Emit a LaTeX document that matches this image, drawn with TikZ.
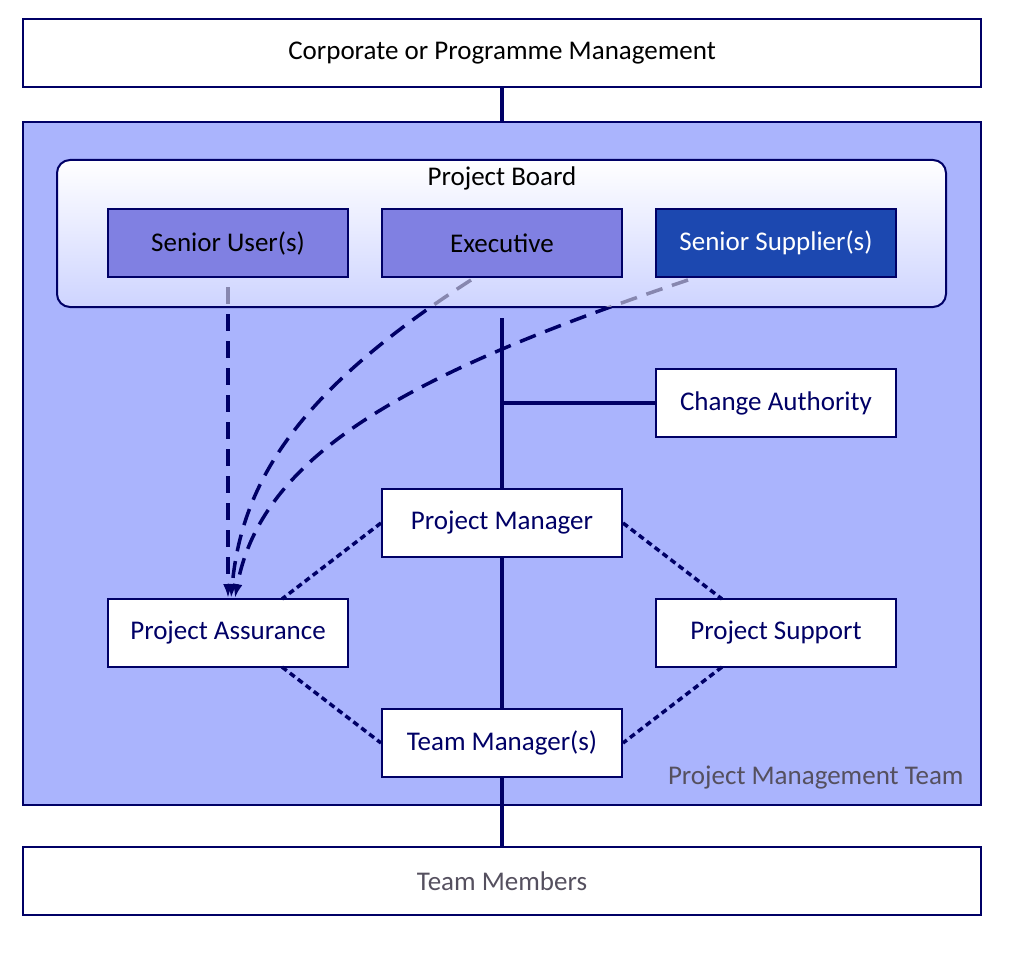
\documentclass[tikz,border=0pt]{standalone}
\usepackage{fontspec}
\setmainfont{Carlito}
\usetikzlibrary{arrows.meta}
\definecolor{myNavy}{RGB}{0,0,102}
\definecolor{pmtFill}{RGB}{170,180,253}
\definecolor{userFill}{RGB}{128,128,226}
\definecolor{suppFill}{RGB}{28,72,176}
\definecolor{boardBot}{RGB}{206,212,255}
\definecolor{greyText}{RGB}{85,80,95}
\definecolor{fadeLine}{RGB}{135,135,175}
\begin{document}
\begin{tikzpicture}[x=1pt,y=-1pt,
  every node/.style={font=\fontsize{27}{32}\selectfont},
  box/.style={draw=myNavy,line width=2pt,fill=white,minimum width=240pt,minimum height=68pt,inner sep=0pt,text=myNavy},
  wide/.style={box,minimum width=958pt},
  role/.style={box,fill=userFill,text=black},
  conn/.style={draw=myNavy,line width=4.5pt},
  dotline/.style={draw=myNavy,line width=3.5pt,dash pattern=on 6pt off 4pt},
  dashline/.style={line width=3.5pt,dash pattern=on 17pt off 10pt},
  tip/.style={-{Latex[length=14pt,width=10pt]}}
]
\useasboundingbox (0,0) rectangle (1012,960);
% background container
\node[draw=myNavy,line width=2pt,fill=pmtFill,minimum width=958pt,minimum height=683pt,inner sep=0pt] (pmt) at (502,463.5) {};
\node[anchor=east,text=greyText] (pmtlabel) at (967,778) {Project Management Team};
% top / bottom boxes
\node[wide,text=black] (corp) at (502,53) {Corporate or Programme Management};
\node[wide,text=greyText] (tms) at (502,881) {Team Members};
% coordinates for dashed lines
\coordinate (suS) at (228,287);
\coordinate (exS) at (471,280);
\coordinate (ssS) at (688,280);
\coordinate (paA) at (228,598);
\coordinate (paB) at (231,598);
\coordinate (paC) at (235,598);
\coordinate (pbS) at (502,318);
\coordinate (caJ) at (502,403);
\coordinate (paNE) at (282,599);
\coordinate (psNW) at (722,599);
\coordinate (paSE) at (282,667);
\coordinate (psSW) at (722,667);
% dashed lines (navy)
\draw[dashline,draw=myNavy,tip,myNavy] (suS) -- (paA);
\draw[dashline,draw=myNavy,tip,myNavy] (exS) .. controls (300,390) and (242,480) .. (paB);
\draw[dashline,draw=myNavy,tip,myNavy] (ssS) .. controls (420,370) and (262,450) .. (paC);
% project board
\node[draw=myNavy,line width=2pt,rounded corners=13pt,top color=white,bottom color=boardBot,minimum width=889pt,minimum height=147pt,inner sep=0pt] (board) at (501.5,233.5) {};
\node[text=black] (boardlabel) at (502,178) {Project Board};
% faded portion inside the board
\begin{scope}
\clip (57,160) rectangle (946,306);
\draw[dashline,draw=fadeLine] (suS) -- (paA);
\draw[dashline,draw=fadeLine] (exS) .. controls (300,390) and (242,480) .. (paB);
\draw[dashline,draw=fadeLine] (ssS) .. controls (420,370) and (262,450) .. (paC);
\end{scope}
\node[role] (su) at (228,243) {Senior User(s)};
\node[role] (exe) at (502,243) {Executive};
\node[role,fill=suppFill,text=white] (ss) at (776,243) {Senior Supplier(s)};
% management boxes
\node[box] (ca) at (776,403) {Change Authority};
\node[box] (pm) at (502,523) {Project Manager};
\node[box] (pa) at (228,633) {Project Assurance};
\node[box] (ps) at (776,633) {Project Support};
\node[box] (tm) at (502,743) {Team Manager(s)};
% solid connectors
\draw[conn] (corp.south) -- (pmt.north);
\draw[conn] (pbS) -- (pm.north);
\draw[conn] (caJ) -- (ca.west);
\draw[conn] (pm.south) -- (tm.north);
\draw[conn] (tm.south) -- (tms.north);
% dotted connectors
\draw[dotline] (pm.west) -- (paNE);
\draw[dotline] (pm.east) -- (psNW);
\draw[dotline] (paSE) -- (tm.west);
\draw[dotline] (psSW) -- (tm.east);
\end{tikzpicture}
\end{document}
